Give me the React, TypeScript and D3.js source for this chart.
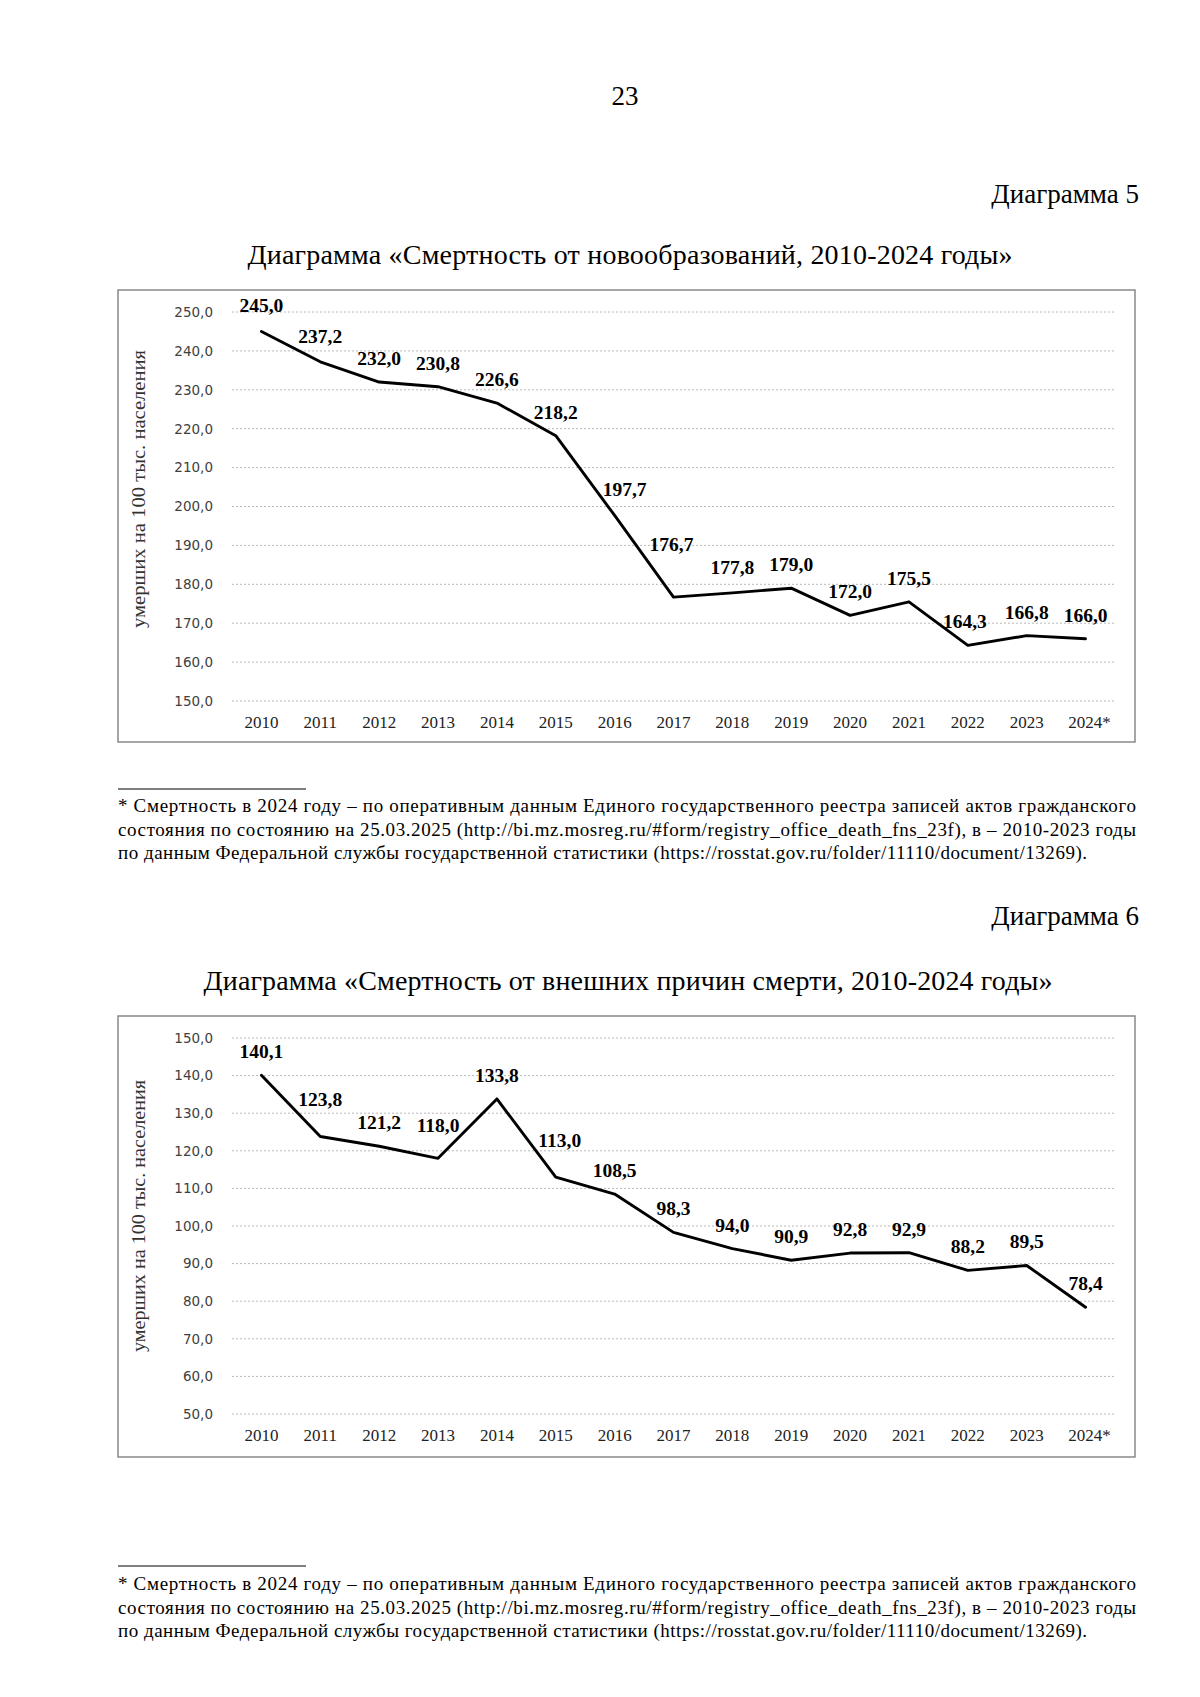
import React from 'react';
import * as d3 from 'd3';

// ---------- data ----------
const years = ['2010', '2011', '2012', '2013', '2014', '2015', '2016', '2017', '2018', '2019', '2020', '2021', '2022', '2023', '2024*'];
const neoplasmValues = [245.0, 237.2, 232.0, 230.8, 226.6, 218.2, 197.7, 176.7, 177.8, 179.0, 172.0, 175.5, 164.3, 166.8, 166.0];
const externalValues = [140.1, 123.8, 121.2, 118.0, 133.8, 113.0, 108.5, 98.3, 94.0, 90.9, 92.8, 92.9, 88.2, 89.5, 78.4];
const neoplasmTicks = [150, 160, 170, 180, 190, 200, 210, 220, 230, 240, 250];
const externalTicks = [50, 60, 70, 80, 90, 100, 110, 120, 130, 140, 150];

const pageNumber = '23';
const chart5Caption = 'Диаграмма 5';
const chart6Caption = 'Диаграмма 6';
const chart5Title = 'Диаграмма «Смертность от новообразований, 2010-2024 годы»';
const chart6Title = 'Диаграмма «Смертность от внешних причин смерти, 2010-2024 годы»';
const yAxisTitle = 'умерших на 100 тыс. населения';
const footnoteLines = [
  '* Смертность в 2024 году – по оперативным данным Единого государственного реестра записей актов гражданского',
  'состояния по состоянию на 25.03.2025 (http://bi.mz.mosreg.ru/#form/registry_office_death_fns_23f), в – 2010-2023 годы',
  'по данным Федеральной службы государственной статистики (https://rosstat.gov.ru/folder/11110/document/13269).',
];

// ---------- layout (label nudges in px, separate from data) ----------
const neoplasmLabelNudge: [number, number][] = [
  [0, -2], [0, -2], [0, 0], [0, 0], [0, 0], [0, 0], [10, -2], [-2, -29], [0, -2], [0, 0], [0, 0], [0, 0], [-3, 0], [0, 0], [0, 0],
];
const externalLabelNudge: [number, number][] = [
  [0, 0], [0, -14], [0, 0], [0, -9], [0, 0], [4, -13], [0, 0], [0, 0], [0, 0], [0, 0], [0, 0], [0, 0], [0, 0], [0, 0], [0, 0],
];

const SERIF = '"Liberation Serif", "Times New Roman", serif';
const SANS = '"DejaVu Sans", Verdana, sans-serif';
const fmt = (v: number) => d3.format('.1f')(v).replace('.', ',');

type ChartProps = {
  boxTop: number;
  boxBottom: number;
  yTop: number;
  yBottom: number;
  ticks: number[];
  values: number[];
  nudges: [number, number][];
  titleCenterY: number;
  titleLen: number;
};

function LineChart({ boxTop, boxBottom, yTop, yBottom, ticks, values, nudges, titleCenterY, titleLen }: ChartProps) {
  const x = d3.scalePoint<string>().domain(years).range([232, 1115]).padding(0.5);
  const y = d3.scaleLinear().domain([d3.min(ticks)!, d3.max(ticks)!]).range([yBottom, yTop]);
  const line = d3
    .line<number>()
    .x((_, i) => x(years[i])!)
    .y((d) => y(d));
  return (
    <g>
      <rect x={118} y={boxTop} width={1017} height={boxBottom - boxTop} fill="none" stroke="#808080" strokeWidth={1.4} />
      {ticks.map((t) => (
        <g key={t}>
          <line x1={232} x2={1115} y1={y(t)} y2={y(t)} stroke="#b8b8b8" strokeWidth={1} strokeDasharray="2,2" />
          <text x={213} y={y(t)} dy="0.36em" textAnchor="end" fontFamily={SANS} fontSize={13.5} fill="#404040">
            {fmt(t)}
          </text>
        </g>
      ))}
      {years.map((yr) => (
        <text key={yr} x={x(yr)! + (yr.endsWith('*') ? 4 : 0)} y={yBottom + 27} textAnchor="middle" fontFamily={SERIF} fontSize={17} fill="#222">
          {yr}
        </text>
      ))}
      <text
        transform={`translate(139,${titleCenterY}) rotate(-90)`}
        textAnchor="middle"
        dy="0.35em"
        fontFamily={SERIF}
        fontSize={18.5}
        fill="#333"
        textLength={titleLen}
        lengthAdjust="spacingAndGlyphs"
      >
        {yAxisTitle}
      </text>
      <path d={line(values) || ''} fill="none" stroke="#000" strokeWidth={2.9} strokeLinejoin="round" strokeLinecap="round" />
      {values.map((v, i) => (
        <text
          key={i}
          x={x(years[i])! + nudges[i][0]}
          y={y(v) - 17 + nudges[i][1]}
          textAnchor="middle"
          fontFamily={SERIF}
          fontWeight="bold"
          fontSize={19.5}
          fill="#000"
        >
          {fmt(v)}
        </text>
      ))}
    </g>
  );
}

function Footnote({ sepY, firstBaseline }: { sepY: number; firstBaseline: number }) {
  const lens = [1018, 1018, 969];
  return (
    <g>
      <line x1={118} x2={306} y1={sepY} y2={sepY} stroke="#000" strokeWidth={1} />
      {footnoteLines.map((l, i) => (
        <text key={i} x={118} y={firstBaseline + i * 23.5} fontFamily={SERIF} fontSize={19} fill="#000" textLength={lens[i]}>
          {l}
        </text>
      ))}
    </g>
  );
}

export default function App() {
  return (
    <svg
      width={1200}
      height={1697}
      viewBox="0 0 1200 1697"
      style={{ position: 'absolute', left: 0, top: 0, background: '#fff' }}
    >
      <rect x={0} y={0} width={1200} height={1697} fill="#fff" />
      <text x={625} y={105} textAnchor="middle" fontFamily={SERIF} fontSize={27} fill="#000">
        {pageNumber}
      </text>
      <text x={1139} y={203} textAnchor="end" fontFamily={SERIF} fontSize={27} fill="#000">
        {chart5Caption}
      </text>
      <text x={630} y={264} textAnchor="middle" fontFamily={SERIF} fontSize={28} fill="#000" textLength={765}>
        {chart5Title}
      </text>
      <LineChart
        boxTop={290}
        boxBottom={742}
        yTop={312}
        yBottom={701}
        ticks={neoplasmTicks}
        values={neoplasmValues}
        nudges={neoplasmLabelNudge}
        titleCenterY={489}
        titleLen={278}
      />
      <Footnote sepY={789} firstBaseline={812} />

      <text x={1139} y={925} textAnchor="end" fontFamily={SERIF} fontSize={27} fill="#000">
        {chart6Caption}
      </text>
      <text x={628} y={990} textAnchor="middle" fontFamily={SERIF} fontSize={28} fill="#000" textLength={849}>
        {chart6Title}
      </text>
      <LineChart
        boxTop={1016}
        boxBottom={1457}
        yTop={1038}
        yBottom={1414}
        ticks={externalTicks}
        values={externalValues}
        nudges={externalLabelNudge}
        titleCenterY={1216}
        titleLen={272}
      />
      <Footnote sepY={1566} firstBaseline={1590} />
    </svg>
  );
}
